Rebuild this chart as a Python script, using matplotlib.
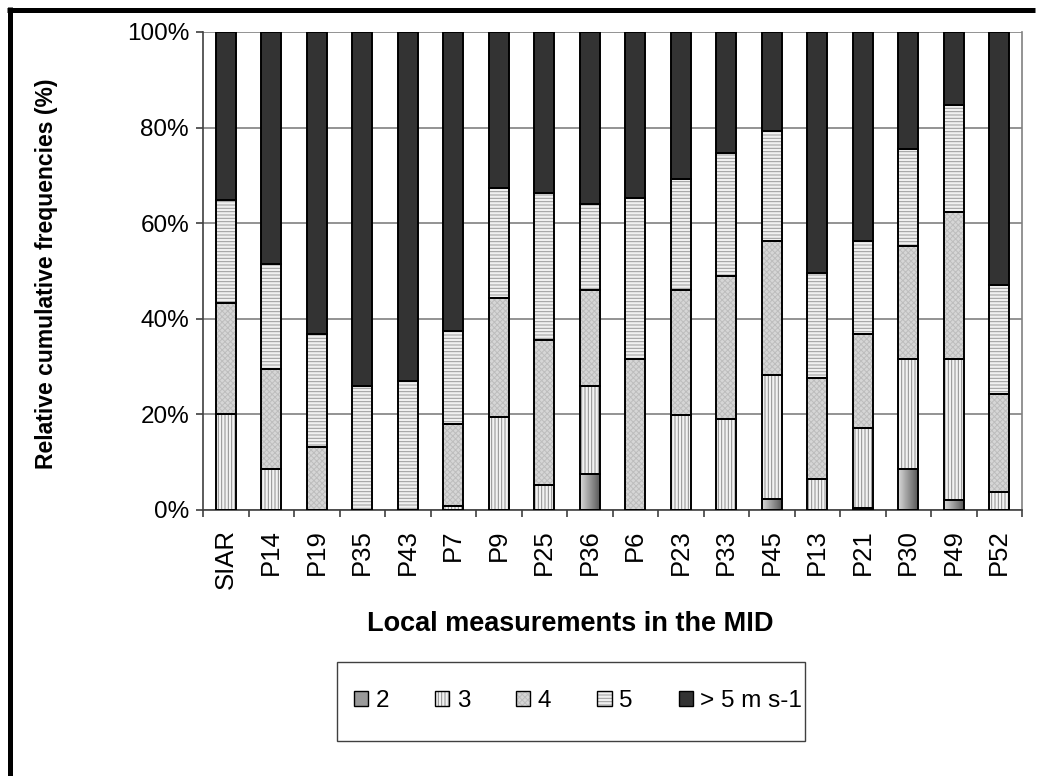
import numpy as np
import matplotlib
matplotlib.use("Agg")
import matplotlib.pyplot as plt
from matplotlib.patches import Patch, Rectangle
from matplotlib.lines import Line2D
from matplotlib.ticker import FuncFormatter, FixedLocator

plt.rcParams['font.family'] = ['Liberation Sans', 'DejaVu Sans']
plt.rcParams['hatch.linewidth'] = 0.7

# ---------------- data (relative frequencies, %) ----------------
sites = ["SIAR", "P14", "P19", "P35", "P43", "P7", "P9", "P25", "P36",
         "P6", "P23", "P33", "P45", "P13", "P21", "P30", "P49", "P52"]
class_labels = ["2", "3", "4", "5", "> 5 m s-1"]
freq_2 = [0, 0, 0, 0, 0, 0, 0, 0, 7.5, 0, 0, 0, 2.3, 0, 0.5, 8.6, 2.0, 0]
freq_3 = [20.0, 8.6, 0, 0, 0, 0.8, 19.5, 5.3, 18.5, 0, 19.8, 19.1, 25.9, 6.5, 16.6, 22.9, 29.5, 3.7]
freq_4 = [23.3, 20.9, 13.2, 0, 0, 17.2, 24.9, 30.2, 20.0, 31.6, 26.2, 29.9, 28.1, 21.1, 19.7, 23.8, 30.8, 20.5]
freq_5 = [21.6, 22.0, 23.6, 25.9, 27.0, 19.4, 23.0, 30.8, 18.0, 33.7, 23.3, 25.7, 23.0, 21.9, 19.5, 20.2, 22.5, 22.8]
freq_gt5 = [35.1, 48.5, 63.2, 74.1, 73.0, 62.6, 32.6, 33.7, 36.0, 34.7, 30.7, 25.3, 20.7, 50.5, 43.7, 24.5, 15.2, 53.0]
y_ticks = [0, 20, 40, 60, 80, 100]

series = [freq_2, freq_3, freq_4, freq_5, freq_gt5]
styles = [
    dict(facecolor="#9a9a9a", hatch=None, hcolor="#9a9a9a"),
    dict(facecolor="#f2f2f2", hatch="|||||", hcolor="#8c8c8c"),
    dict(facecolor="#d6d6d6", hatch="xxxxxx", hcolor="#bdbdbd"),
    dict(facecolor="#f0f0f0", hatch="-----", hcolor="#9a9a9a"),
    dict(facecolor="#333333", hatch=None, hcolor="#333333"),
]

W, H = 1040, 776
fig = plt.figure(figsize=(W / 100, H / 100), dpi=100)
ax = fig.add_axes([203 / W, 1 - 510 / H, (1022 - 203) / W, (510 - 32) / H])

x = np.arange(len(sites))
width = 0.43
bottom = np.zeros(len(sites))
grad = np.linspace(0.85, 0.35, 64).reshape(1, -1)
for k, (vals, st) in enumerate(zip(series, styles)):
    vals = np.array(vals, dtype=float)
    fills = ax.bar(x, vals, width, bottom=bottom, color=st["facecolor"],
                   edgecolor=st["hcolor"], linewidth=0, hatch=st["hatch"], zorder=2)
    if k == 0:
        for b, v in zip(fills, vals):
            if v > 0:
                im = ax.imshow(grad, cmap="gray", vmin=0, vmax=1, aspect="auto",
                               extent=(b.get_x(), b.get_x() + b.get_width(),
                                       b.get_y(), b.get_y() + b.get_height()),
                               zorder=2.5)
                im.set_clip_path(b)
    ax.bar(x, vals, width, bottom=bottom, fill=False, edgecolor="black",
           linewidth=1.4, zorder=3)
    bottom += vals

ax.set_xlim(-0.5, len(sites) - 0.5)
ax.set_ylim(0, 100)
ax.set_aspect("auto")

# axes styling
ax.spines["top"].set_visible(False)
ax.spines["right"].set_color("#808080")
ax.spines["right"].set_linewidth(1.2)
ax.spines["left"].set_color("#404040")
ax.spines["left"].set_linewidth(1.2)
ax.spines["bottom"].set_color("#404040")
ax.spines["bottom"].set_linewidth(1.2)

ax.set_yticks(y_ticks)
ax.yaxis.set_major_formatter(FuncFormatter(lambda v, p: f"{int(v)}%"))
ax.yaxis.grid(True, color="#808080", linewidth=1.2, zorder=0)
ax.set_axisbelow(True)
ax.tick_params(axis="y", labelsize=17.5, length=5, width=1.2, color="#404040", pad=5)

ax.set_xticks(x)
ax.set_xticklabels(sites, rotation=90, fontsize=18.5)
ax.tick_params(axis="x", which="major", length=0, pad=14)
ax.xaxis.set_minor_locator(FixedLocator(np.arange(-0.5, len(sites), 1.0)))
ax.tick_params(axis="x", which="minor", length=5, width=1.2, color="#404040")

# axis titles
fig.text(47 / W, 1 - 274 / H, "Relative cumulative frequencies (%)", rotation=90,
         ha="center", va="center", fontsize=16.5, fontweight="bold")
fig.text(570 / W, 1 - 624 / H, "Local measurements in the MID",
         ha="center", va="center", fontsize=19.5, fontweight="bold")

# legend
handles = []
for st in styles:
    f = Patch(facecolor=st["facecolor"], edgecolor=st["hcolor"], hatch=st["hatch"], linewidth=0)
    o = Patch(fill=False, edgecolor="black", linewidth=1.0)
    handles.append((f, o))
leg = fig.legend(handles, class_labels, loc="center",
                 bbox_to_anchor=(578 / W, 1 - 701 / H), ncol=5, frameon=False,
                 fontsize=17.5, handlelength=0.58, handleheight=0.58,
                 handletextpad=0.3, columnspacing=1.9)
fig.patches.append(Rectangle((337 / W, 1 - 741 / H), (805 - 337) / W, (741 - 662) / H,
                             transform=fig.transFigure, fill=False,
                             edgecolor="#404040", linewidth=1.0))

# outer frame (top and left thick lines)
fig.add_artist(Line2D([9.5 / W, 9.5 / W], [0, 1 - 7 / H], transform=fig.transFigure,
                      color="black", linewidth=3.6, solid_capstyle="butt"))
fig.add_artist(Line2D([7 / W, 1035 / W], [1 - 9.5 / H, 1 - 9.5 / H], transform=fig.transFigure,
                      color="black", linewidth=3.6, solid_capstyle="butt"))

fig.savefig("out.png", dpi=100, facecolor="white")
